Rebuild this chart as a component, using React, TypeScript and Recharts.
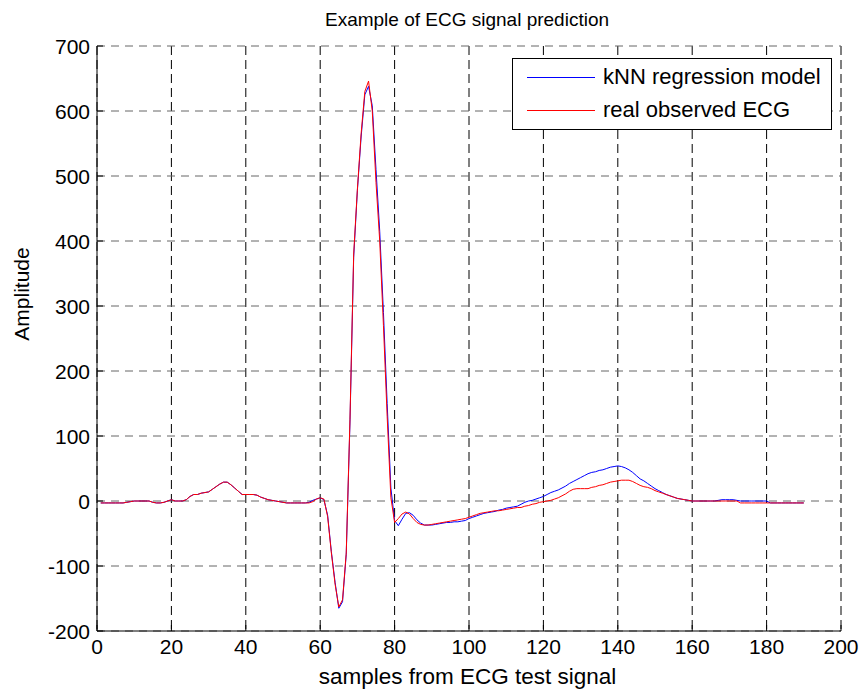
import { LineChart, Line, XAxis, YAxis, CartesianGrid } from "recharts"

// ECG test signal, samples 1..190
const REAL_ECG = [
    -3, -3, -3, -3, -3, -3, -3, -2, -1, 0,
    0, 0, 0, 0, -2, -3, -3, -2, 0, 2,
    0, 0, 0, 2, 7, 10, 10, 12, 13, 14,
    18, 22, 26, 29, 29, 25, 20, 15, 10, 10,
    10, 10, 9, 6, 4, 2, 1, 0, -1, -2,
    -3, -3, -3, -3, -3, -3, -3, -1, 3, 5,
    3, -24, -80, -128, -163, -152, -80, 125, 380, 480,
    565, 630, 646, 600, 490, 400, 270, 130, 5, -33,
    -27, -20, -17, -20, -27, -33, -36, -37, -37, -36,
    -35, -34, -33, -32, -31, -30, -29, -28, -27, -25,
    -23, -21, -19, -18, -17, -16, -15, -15, -14, -13,
    -12, -11, -10, -10, -8, -7, -5, -4, -2, -1,
    0, 1, 3, 5, 8, 11, 15, 18, 19, 19,
    19, 19, 21, 22, 24, 25, 27, 29, 30, 31,
    32, 32, 32, 30, 27, 24, 22, 21, 19, 16,
    14, 12, 10, 8, 6, 4, 3, 2, 1, 0,
    0, 0, 0, 0, 0, 0, 0, 0, 0, 0,
    0, 0, -3, -3, -3, -3, -3, -3, -3, -3,
    -3, -3, -3, -3, -3, -3, -3, -3, -3, -3,
]

const KNN_PRED = [
    -3, -3, -3, -3, -3, -3, -3, -2, -1, 0,
    0, 0, 0, 0, -2, -3, -3, -2, 0, 2,
    0, 0, 0, 2, 7, 10, 10, 12, 13, 14,
    18, 22, 26, 29, 29, 25, 20, 15, 10, 10,
    10, 10, 9, 6, 4, 2, 1, 0, -1, -2,
    -3, -3, -3, -3, -3, -3, -2, 1, 3, 5,
    2, -22, -78, -125, -165, -155, -82, 120, 375, 478,
    560, 625, 638, 608, 510, 415, 290, 150, 20, -30,
    -38, -28, -19, -18, -22, -29, -34, -37, -37, -37,
    -36, -35, -34, -33, -33, -32, -32, -31, -30, -27,
    -25, -23, -21, -19, -18, -17, -16, -14, -13, -11,
    -10, -9, -8, -5, -2, 0, 1, 3, 5, 7,
    10, 13, 15, 17, 20, 23, 27, 30, 33, 36,
    39, 42, 44, 45, 47, 48, 50, 52, 53, 54,
    53, 51, 48, 44, 39, 34, 31, 27, 23, 19,
    16, 13, 10, 8, 6, 4, 3, 2, 1, 0,
    0, 0, 0, 0, 0, 0, 1, 2, 2, 2,
    2, 1, 0, 0, 0, 0, 0, 0, 0, 0,
    -3, -3, -3, -3, -3, -3, -3, -3, -3, -3,
]

const X_TICKS = [0, 20, 40, 60, 80, 100, 120, 140, 160, 180, 200]
const Y_TICKS = [-200, -100, 0, 100, 200, 300, 400, 500, 600, 700]

const data = REAL_ECG.map((real, i) => ({ sample: i + 1, real, knn: KNN_PRED[i] }))

const FONT = "'Liberation Sans', Arial, Helvetica, sans-serif"
const TICK_LEN = 6

// ticks drawn inside the box, like matlab
const BottomTick = ({ x, y, payload }: any) => (
    <g>
        <line x1={x} x2={x} y1={y - 8} y2={y - 8 - TICK_LEN} stroke="#000" />
        <text x={x} y={y} dy="0.72em" textAnchor="middle" fontSize={21} fontFamily={FONT} fill="#000">
            {payload.value}
        </text>
    </g>
)

const LeftTick = ({ x, y, payload }: any) => (
    <g>
        <line x1={x + 7} x2={x + 7 + TICK_LEN} y1={y} y2={y} stroke="#000" />
        <text x={x} y={y} dy="0.36em" textAnchor="end" fontSize={21} fontFamily={FONT} fill="#000">
            {payload.value}
        </text>
    </g>
)

const TopTick = ({ x, y }: any) => (
    <line x1={x} x2={x} y1={y} y2={y + TICK_LEN} stroke="#000" />
)

const RightTick = ({ x, y }: any) => (
    <line x1={x} x2={x - TICK_LEN} y1={y} y2={y} stroke="#000" />
)

export default function App() {
    return (
        <div style={{ position: "absolute", left: 0, top: 0, width: 864, height: 691, background: "#fff", fontFamily: FONT }}>
            <LineChart width={864} height={691} data={data} margin={{ top: 46, right: 23, bottom: 0, left: 0 }}>
                <CartesianGrid horizontal={false} stroke="#000" strokeDasharray="9 5" />
                <CartesianGrid vertical={false} stroke="#666" strokeDasharray="8 6" />
                <XAxis
                    dataKey="sample"
                    type="number"
                    domain={[0, 200]}
                    ticks={X_TICKS}
                    interval={0}
                    height={60}
                    tickSize={0}
                    tickMargin={8}
                    tick={<BottomTick />}
                    axisLine={{ stroke: "#000" }}
                />
                <XAxis
                    xAxisId="top"
                    orientation="top"
                    dataKey="sample"
                    type="number"
                    domain={[0, 200]}
                    ticks={X_TICKS}
                    interval={0}
                    height={0}
                    tickSize={0}
                    tickMargin={0}
                    tick={<TopTick />}
                    axisLine={{ stroke: "#000" }}
                />
                <YAxis
                    type="number"
                    domain={[-200, 700]}
                    ticks={Y_TICKS}
                    interval={0}
                    width={97}
                    tickSize={0}
                    tickMargin={7}
                    tick={<LeftTick />}
                    axisLine={{ stroke: "#000" }}
                />
                <YAxis
                    yAxisId="right"
                    orientation="right"
                    type="number"
                    domain={[-200, 700]}
                    ticks={Y_TICKS}
                    interval={0}
                    width={0}
                    tickSize={0}
                    tickMargin={0}
                    tick={<RightTick />}
                    axisLine={{ stroke: "#000" }}
                />
                <Line dataKey="knn" type="linear" stroke="#0000ff" strokeWidth={1} dot={false} isAnimationActive={false} />
                <Line dataKey="real" type="linear" stroke="#ff0000" strokeWidth={1} dot={false} isAnimationActive={false} />
            </LineChart>

            {/* Title and axis labels */}
            <div style={{ position: "absolute", left: 0, width: 934, top: 8, textAlign: "center", fontSize: 19, lineHeight: "24px" }}>
                Example of ECG signal prediction
            </div>
            <div style={{ position: "absolute", left: 0, width: 935, top: 663, textAlign: "center", fontSize: 22.5, lineHeight: "28px" }}>
                samples from ECG test signal
            </div>
            <div style={{ position: "absolute", left: 22, top: 294, transform: "translate(-50%, -50%) rotate(-90deg)", fontSize: 21, lineHeight: "26px", whiteSpace: "nowrap" }}>
                Amplitude
            </div>

            {/* Legend */}
            <div style={{ position: "absolute", left: 512, top: 58, width: 318, height: 70, border: "1px solid #000", background: "#fff", fontSize: 22 }}>
                <div style={{ position: "absolute", left: 14, top: 18, width: 68, height: 1, background: "#0000ff" }} />
                <div style={{ position: "absolute", left: 90, top: 4, lineHeight: "28px", whiteSpace: "nowrap" }}>kNN regression model</div>
                <div style={{ position: "absolute", left: 14, top: 51, width: 68, height: 1, background: "#ff0000" }} />
                <div style={{ position: "absolute", left: 90, top: 37, lineHeight: "28px", whiteSpace: "nowrap" }}>real observed ECG</div>
            </div>
        </div>
    )
}
